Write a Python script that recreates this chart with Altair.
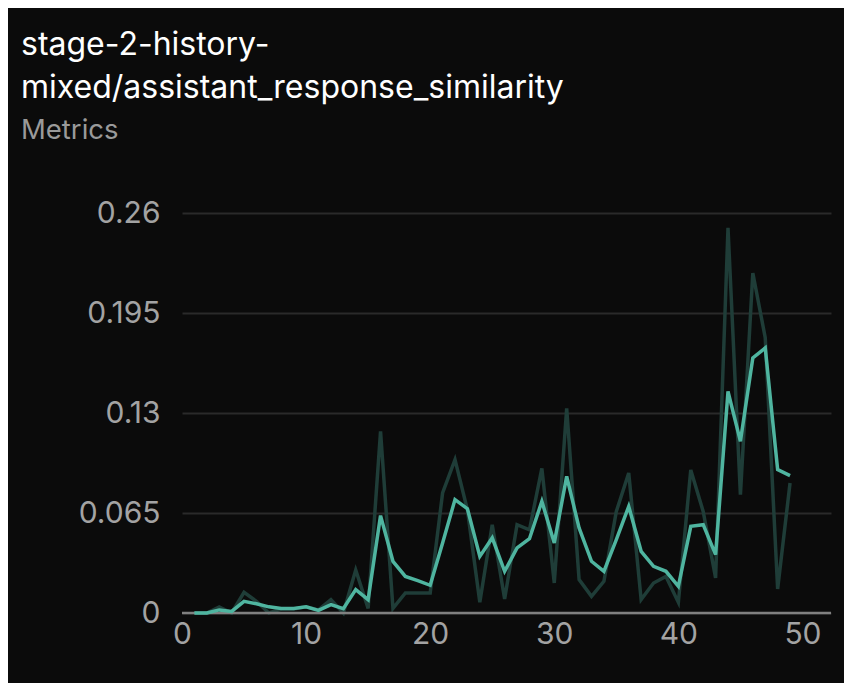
import pandas as pd
import altair as alt

# step index
steps = list(range(1, 50))

# raw metric per step
raw = [0.0, 0.0, 0.004, 0.0, 0.0134, 0.0076, 0.0, 0.0026, 0.0026, 0.004,
       0.002, 0.0087, 0.0, 0.028, 0.003, 0.118, 0.003, 0.013, 0.013, 0.013,
       0.078, 0.0997, 0.067, 0.007, 0.0574, 0.0091, 0.0574, 0.054, 0.094, 0.0195,
       0.133, 0.0217, 0.0108, 0.0206, 0.066, 0.091, 0.0087, 0.0195, 0.0238, 0.0069,
       0.093, 0.066, 0.0228, 0.2503, 0.0769, 0.221, 0.179, 0.0156, 0.0845]

# smoothed metric per step
smooth = [0.0, 0.0, 0.002, 0.001, 0.0076, 0.006, 0.004, 0.003, 0.003, 0.004,
          0.0017, 0.0054, 0.0028, 0.0152, 0.0087, 0.0633, 0.0336, 0.0238, 0.021, 0.018,
          0.0455, 0.0737, 0.0678, 0.0368, 0.0488, 0.0271, 0.0423, 0.0483, 0.0726, 0.0455,
          0.0888, 0.0553, 0.0336, 0.0271, 0.0477, 0.0693, 0.0401, 0.0303, 0.0271, 0.0173,
          0.0563, 0.0574, 0.0379, 0.144, 0.1116, 0.1658, 0.1723, 0.0932, 0.0893]

y_ticks = [0, 0.065, 0.13, 0.195, 0.26]
x_ticks = [0, 10, 20, 30, 40, 50]

df = pd.DataFrame({'step': steps, 'raw': raw, 'smooth': smooth})

FONT = 'Inter'

x_enc = alt.X('step:Q', title=None,
              scale=alt.Scale(domain=[0, 52.3], nice=False, zero=False),
              axis=alt.Axis(values=x_ticks, grid=False, ticks=False, domain=False,
                            labelPadding=6, labelFontSize=30, labelColor='#a3a3a3',
                            labelFont=FONT, labelFlush=False))

y_scale = alt.Scale(domain=[0, 0.26], nice=False)
y_axis = alt.Axis(values=y_ticks, grid=True, gridColor='#2a2a2a', gridWidth=2,
                  ticks=False, domain=False, labelPadding=22, labelFontSize=30,
                  labelColor='#a3a3a3', labelFont=FONT, format='.3~f')

base = alt.Chart(df)

raw_line = base.mark_line(color='#1f3d38', strokeWidth=3.5).encode(
    x=x_enc,
    y=alt.Y('raw:Q', title=None, scale=y_scale, axis=y_axis)
)

smooth_line = base.mark_line(color='#4fb5a0', strokeWidth=3.5).encode(
    x=x_enc,
    y=alt.Y('smooth:Q', scale=y_scale)
)

zero_rule = alt.Chart(pd.DataFrame({'y': [0]})).mark_rule(
    color='#808080', strokeWidth=2.5
).encode(
    y=alt.Y('y:Q', scale=y_scale)
)

chart = (raw_line + zero_rule + smooth_line).properties(
    width=649,
    height=400,
    autosize=alt.AutoSizeParams(type='none'),
    padding={'left': 174, 'top': 205, 'right': 13, 'bottom': 70},
    title=alt.TitleParams(
        text=['stage-2-history-', 'mixed/assistant_response_similarity'],
        subtitle='Metrics',
        anchor='start',
        frame='group',
        dx=-161,
        offset=53,
        font=FONT,
        fontSize=32,
        fontWeight='normal',
        color='#ffffff',
        lineHeight=43,
        subtitleFont=FONT,
        subtitleFontSize=27.5,
        subtitleColor='#9a9a9a',
        subtitlePadding=12
    )
).configure(
    background='#0b0b0b'
).configure_view(
    stroke=None
)

chart.save("out.html", embed_options={"renderer": "svg", "actions": False})
